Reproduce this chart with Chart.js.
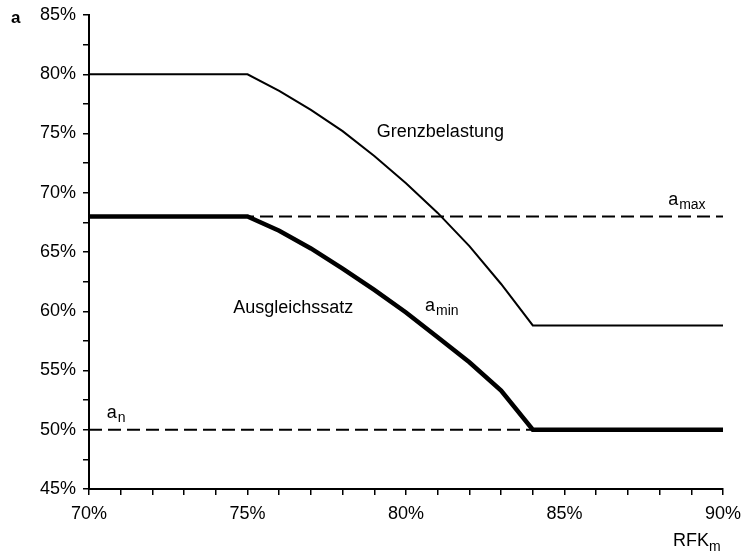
<!DOCTYPE html>
<html>
<head>
<meta charset="utf-8">
<script src="https://cdn.jsdelivr.net/npm/chart.js@4"></script>
<style>
  html, body { margin: 0; padding: 0; background: #fff; }
  #wrap { width: 743px; height: 553px; }
</style>
</head>
<body>
<div id="wrap"><canvas id="chart" width="743" height="553"></canvas></div>
<script>
// RFK_m values (x, in %)
const rfk = [70, 75, 76, 77, 78, 79, 80, 81, 82, 83, 84, 90];
// Grenzbelastung (thin line)
const grenz = [80, 80, 78.6, 77.0, 75.2, 73.1, 70.8, 68.3, 65.5, 62.3, 58.8, 58.8];
// Ausgleichssatz a_min (thick line)
const amin = [68, 68, 66.8, 65.3, 63.6, 61.8, 59.9, 57.8, 55.7, 53.3, 50, 50];
// horizontal limits
const amaxX = [70, 90];
const amax = [68, 68];
const anX = [70, 90];
const an = [50, 50];

// text labels in data coordinates
const notes = [
  { x: 79.08, y: 75.1, text: "Grenzbelastung" },
  { x: 74.55, y: 60.25, text: "Ausgleichssatz" },
  { x: 80.6, y: 60.4, text: "a", sub: "min" },
  { x: 88.27, y: 69.4, text: "a", sub: "max" },
  { x: 70.56, y: 51.4, text: "a", sub: "n" }
];

const ink = "#000";
const font = "'Liberation Sans', Arial, sans-serif";

const pts = (xs, ys) => xs.map((x, i) => ({ x, y: ys[i] }));

const labelPlugin = {
  id: "labels",
  afterDatasetsDraw(chart) {
    const { ctx, scales: { x, y }, chartArea } = chart;
    ctx.save();
    ctx.fillStyle = ink;
    ctx.textBaseline = "middle";
    ctx.textAlign = "left";
    notes.forEach(n => {
      const px = x.getPixelForValue(n.x);
      const py = y.getPixelForValue(n.y);
      ctx.font = "18px " + font;
      ctx.fillText(n.text, px, py);
      if (n.sub) {
        const w = ctx.measureText(n.text).width;
        ctx.font = "14px " + font;
        ctx.fillText(n.sub, px + w + 1, py + 5);
      }
    });
    // panel letter
    ctx.font = "bold 17px " + font;
    ctx.fillText("a", 11, chartArea.top + 3);
    // axis title
    ctx.font = "18px " + font;
    const tx = chartArea.right - 50;
    const ty = chartArea.bottom + 52;
    ctx.fillText("RFK", tx, ty);
    const w = ctx.measureText("RFK").width;
    ctx.font = "14px " + font;
    ctx.fillText("m", tx + w, ty + 6);
    ctx.restore();
  }
};

new Chart(document.getElementById("chart"), {
  type: "scatter",
  data: {
    datasets: [
      { data: pts(amaxX, amax), borderColor: ink, borderWidth: 2, borderDash: [13, 6] },
      { data: pts(anX, an), borderColor: ink, borderWidth: 2, borderDash: [13, 6] },
      { data: pts(rfk, grenz), borderColor: ink, borderWidth: 2 },
      { data: pts(rfk, amin), borderColor: ink, borderWidth: 4.5 }
    ].map(d => Object.assign(d, { showLine: true, pointRadius: 0, tension: 0, fill: false }))
  },
  options: {
    responsive: false,
    animation: false,
    layout: { padding: { top: 15, right: 20, left: 0, bottom: 0 } },
    plugins: { legend: { display: false }, tooltip: { enabled: false } },
    scales: {
      x: {
        type: "linear",
        min: 70, max: 90,
        afterFit: s => { s.height = 64; s.paddingLeft = 0; s.paddingRight = 0; },
        border: { display: true, color: ink, width: 2 },
        grid: { drawOnChartArea: false, drawTicks: true, tickLength: 6, color: ink, lineWidth: 1.5 },
        ticks: {
          stepSize: 1,
          autoSkip: false,
          maxRotation: 0,
          padding: 8,
          color: ink,
          font: { family: font, size: 18 },
          callback: v => (v % 5 === 0 ? v + "%" : "")
        }
      },
      y: {
        type: "linear",
        min: 45, max: 85,
        afterFit: s => { s.width = 89; s.paddingTop = 0; s.paddingBottom = 0; },
        border: { display: true, color: ink, width: 2 },
        grid: { drawOnChartArea: false, drawTicks: true, tickLength: 6, color: ink, lineWidth: 1.5 },
        ticks: {
          stepSize: 2.5,
          autoSkip: false,
          padding: 7,
          color: ink,
          font: { family: font, size: 18 },
          callback: v => (v % 5 === 0 ? v + "%" : "")
        }
      }
    }
  },
  plugins: [labelPlugin]
});
</script>
</body>
</html>
